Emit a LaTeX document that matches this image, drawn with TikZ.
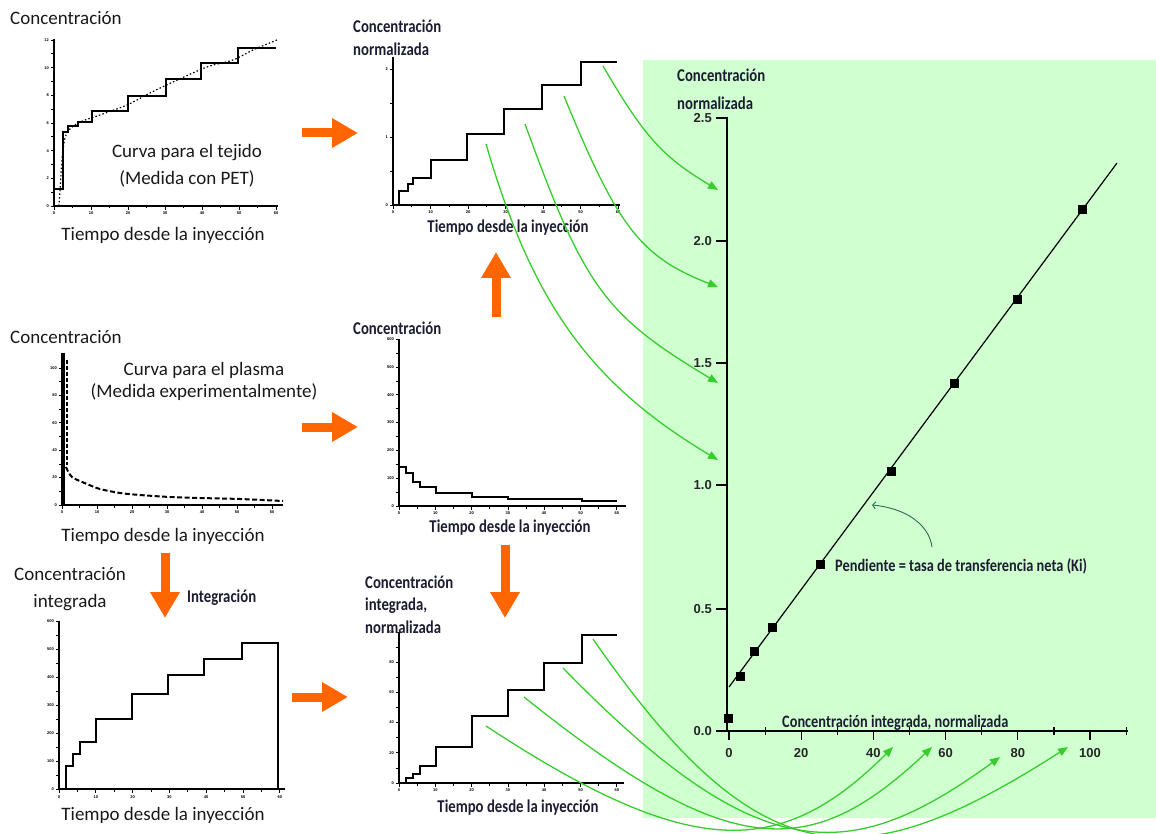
\documentclass[tikz,border=0pt]{standalone}
\usepackage{fontspec}
\setmainfont{Carlito}
\newfontfamily\condf{Carlito}[FakeStretch=0.82]
\newfontfamily\numf{Liberation Sans}
\usetikzlibrary{arrows.meta}
\definecolor{panelgreen}{RGB}{208,255,208}
\definecolor{curvegreen}{RGB}{55,205,45}
\definecolor{arrorange}{RGB}{255,102,0}
\definecolor{navy}{RGB}{28,28,50}
\definecolor{annogreen}{RGB}{40,110,80}
\newcommand\plotaxes[9]{%
  \draw[axis] (#2,#4) -- (#2,#3) -- (#5,#3);
  \foreach \k in {0,...,#8} \draw[tick] (#2,{#3-#7*\k}) -- ++(-3,0);
  \foreach \k in {0,...,12} \draw[tick] ({#2+#6*\k/2},#3) -- ++(0,{mod(\k,2)==0 ? 4 : 2.5});
  \foreach \v [count=\i from 0] in {0,10,20,30,40,50,60} \node[tiny,anchor=north] (#1x\i) at ({#2+#6*\i},{#3+6}) {\v};
  \foreach \v [count=\i from 0] in {#9} \node[tiny,anchor=east] (#1y\i) at ({#2-5},{#3-2*#7*\i}) {\v};
}
\begin{document}
\begin{tikzpicture}[x=1pt,y=-1pt,
  axis/.style={line width=1.4pt},
  tick/.style={line width=0.8pt},
  stepc/.style={line width=1.6pt,line join=miter},
  lbl/.style={font=\fontsize{19}{27}\selectfont,inner sep=0pt,text=black!90,align=center},
  clbl/.style={font=\condf\bfseries\fontsize{18}{22.5}\selectfont,inner sep=0pt,text=navy,align=left},
  tiny/.style={font=\numf\bfseries\fontsize{4}{4}\selectfont,inner sep=0pt},
  ticklbl/.style={font=\numf\bfseries\fontsize{13}{15}\selectfont,inner sep=0pt,text=black!85},
  gcurve/.style={curvegreen,line width=1.3pt,-{Triangle[width=8pt,length=10pt]}},
  oarrow/.style={arrorange,line width=9pt,-{Triangle[width=28pt,length=26pt]}}]
\useasboundingbox (0,0) rectangle (1156,834);
\fill[panelgreen] (643,60) rectangle (1156,818);

% ---------- plot 1: tissue curve
\plotaxes{pa}{54}{206}{39}{278}{37}{13.83}{12}{0,2,4,6,8,10,12}
\draw[stepc] (54,189)-|(63,132)-|(68,126)-|(78,122)-|(92,111)-|(128,96)-|(166,79)-|(201,63)-|(238,48)--(276,48);
\draw[line width=1.2pt,dash pattern=on 1.5pt off 2.2pt] plot[smooth] coordinates {(59,206)(60,190)(62,160)(65,138)(70,129)(80,122)(100,115)(127,105)(150,93)(173,82)(207,67)(233,60)(253,50)(277,40)};
\node[lbl,anchor=west] (ca) at (10,18) {Concentración};
\node[lbl] (ta) at (187,166) {Curva para el tejido\\(Medida con PET)};
\node[lbl] (xa) at (163,235) {Tiempo desde la inyección};

% ---------- plot 2: normalized tissue
\plotaxes{pb}{393}{205}{57}{620}{37.5}{34}{4}{0,1,2}
\draw[stepc] (393,205)-|(399,191)-|(408,184)-|(413,178)-|(431,160)-|(467,134)-|(504,109)-|(542,85)-|(581,62)--(617,62);
\node[clbl,anchor=west] (cb) at (353,38) {Concentración\\normalizada};
\node[clbl] (xb) at (508,228) {Tiempo desde la inyección};

% ---------- plot 3: plasma curve
\plotaxes{pc}{62}{505}{353}{283}{35}{13.7}{10}{0,20,40,60,80,100}
\draw[line width=2.2pt] (64,505)--(64,353);
\draw[line width=1.5pt,dash pattern=on 4pt off 2pt] (67,360)--(67,465);
\draw[line width=2pt,dash pattern=on 5pt off 2.5pt] plot[smooth] coordinates {(66,467)(72,477)(87,484)(100,489)(120,493)(140,495)(170,497)(200,498)(240,499)(283,501)};
\node[lbl,anchor=west] (cc) at (10,337) {Concentración};
\node[lbl,font=\fontsize{19}{22}\selectfont] (tc) at (204,381) {Curva para el plasma\\(Medida experimentalmente)};
\node[lbl] (xc) at (163,536) {Tiempo desde la inyección};

% ---------- plot 4: plasma step
\plotaxes{pd}{399}{506}{339}{626}{36.3}{13.9}{12}{0,100,200,300,400,500,600}
\draw[stepc] (399,467)-|(406,473)-|(413,482)-|(420,487)-|(436,493)-|(472,497)-|(508,499)-|(582,501)--(617,501);
\node[clbl,anchor=west] (cd) at (353,328) {Concentración};
\node[clbl] (xd) at (510,528) {Tiempo desde la inyección};

% ---------- plot 5: integrated
\plotaxes{pe}{59}{789}{621}{285}{36.8}{14}{12}{0,100,200,300,400,500,600}
\draw[stepc] (66,789)|-(73,766)|-(80,754)|-(96,742)|-(132,719)|-(168,694)|-(204,675)|-(242,659)|-(278,643)--(278,789);
\node[lbl] (ce) at (70,589) {Concentración\\integrada};
\node[clbl,anchor=west] (ie) at (187,598) {Integración};
\node[lbl] (xe) at (163,815) {Tiempo desde la inyección};

% ---------- plot 6: integrated normalized
\plotaxes{pf}{399}{783}{632}{624}{36.3}{15.1}{10}{0,20,40,60,80,100}
\draw[stepc] (400,783)-|(406,778)-|(413,774)-|(420,766)-|(436,747)-|(472,716)-|(508,690)-|(544,663)-|(582,635)--(617,635);
\node[clbl,anchor=west] (cf) at (365,604.5) {Concentración\\integrada,\\normalizada};
\node[clbl] (xf) at (518,808) {Tiempo desde la inyección};

% ---------- orange block arrows
\coordinate (o1s) at (302,133); \coordinate (o1e) at (358,133);
\coordinate (o2s) at (302,427); \coordinate (o2e) at (358,427);
\coordinate (o3s) at (496,317); \coordinate (o3e) at (496,252);
\coordinate (o4s) at (505,545); \coordinate (o4e) at (505,618);
\coordinate (o5s) at (165,553); \coordinate (o5e) at (165,618);
\coordinate (o6s) at (292,697); \coordinate (o6e) at (348,697);
\foreach \n in {1,...,6} \draw[oarrow] (o\n s) -- (o\n e);

% ---------- Patlak plot
\draw[axis] (716,118) -- (727,118) -- (727,731);
\foreach \y/\t [count=\i] in {118/2.5,241/2.0,363/1.5,485/1.0,609/0.5,731/0.0} {
  \draw[tick,line width=1.2pt] (716,\y) -- (727,\y);
  \node[ticklbl,anchor=east] (ry\i) at (712,\y) {\t};
}
\draw[axis] (716,731) -- (1128,731);
\foreach \v [count=\i from 0] in {0,20,40,60,80,100} {
  \draw[tick,line width=1.2pt] ({729+72.2*\i},731) -- ++(0,9);
  \draw[tick,line width=1.2pt] ({729+72.2*\i+36.1},727) -- ++(0,8);
  \node[ticklbl] (rx\i) at ({729+72.2*\i},753) {\v};
}
\draw[line width=1.2pt] (729,687) -- (1117,163);
\foreach \p in {(728,718),(740,676),(754,651),(772,627),(820,564),(891,471),(954,383),(1017,299),(1082,210)}
  \fill \p +(-4.5,-4.5) rectangle +(4.5,4.5);
\node[clbl,font=\condf\bfseries\fontsize{18}{28}\selectfont,anchor=west] (cr) at (677,89) {Concentración\\normalizada};
\node[clbl,font=\condf\bfseries\fontsize{17.5}{20}\selectfont,anchor=west] (slope) at (835,566) {Pendiente = tasa de transferencia neta (Ki)};
\node[clbl,font=\condf\bfseries\fontsize{17.5}{20}\selectfont,anchor=west] (xr) at (782,723) {Concentración integrada, normalizada};
\coordinate (an1) at (932,547); \coordinate (an2) at (872,505);
\draw[annogreen,line width=0.9pt,-{Straight Barb[length=3pt,width=7pt]}] (an1) .. controls (929,524) and (905,508) .. (an2);

% ---------- green curved arrows (top)
\coordinate (t1s) at (603,66);  \coordinate (t1e) at (718,190);
\coordinate (t2s) at (564,96);  \coordinate (t2e) at (718,287);
\coordinate (t3s) at (525,124); \coordinate (t3e) at (718,383);
\coordinate (t4s) at (486,144); \coordinate (t4e) at (718,460);
\draw[gcurve] (t1s) .. controls (645,138) and (663,157) .. (t1e);
\draw[gcurve] (t2s) .. controls (618,228) and (641,257) .. (t2e);
\draw[gcurve] (t3s) .. controls (585,289) and (605,315) .. (t3e);
\draw[gcurve] (t4s) .. controls (533,305) and (591,384) .. (t4e);

% ---------- green curved arrows (bottom)
\coordinate (b1s) at (486,726); \coordinate (b1e) at (893,747);
\coordinate (b2s) at (524,697); \coordinate (b2e) at (932,747);
\coordinate (b3s) at (563,668); \coordinate (b3e) at (1000,757);
\coordinate (b4s) at (593,639); \coordinate (b4e) at (1068,747);
\draw[gcurve] (b1s) .. controls (690,860) and (780,860) .. (b1e);
\draw[gcurve] (b2s) .. controls (730,862) and (810,862) .. (b2e);
\draw[gcurve] (b3s) .. controls (760,870) and (850,866) .. (b3e);
\draw[gcurve] (b4s) .. controls (760,880) and (860,880) .. (b4e);
\end{tikzpicture}
\end{document}
